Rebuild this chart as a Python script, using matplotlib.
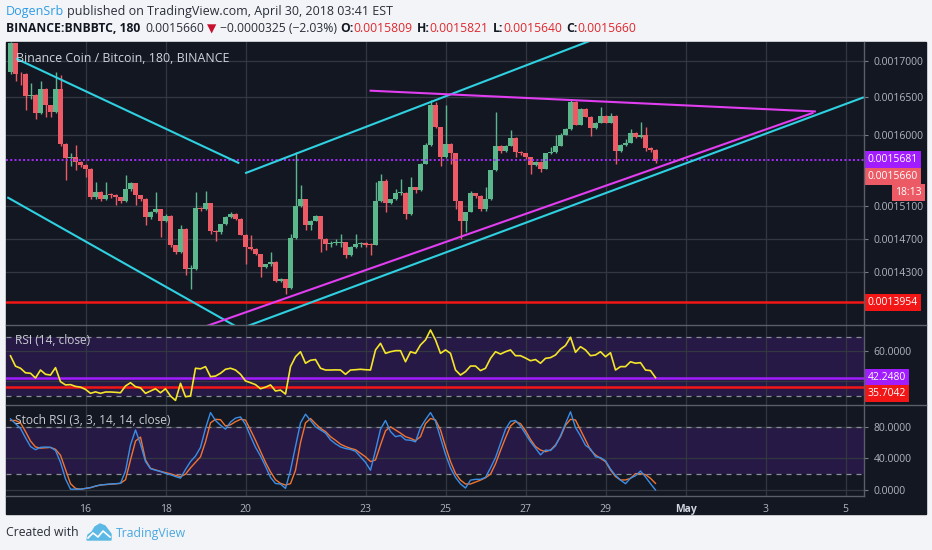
import matplotlib
matplotlib.use("Agg")
import matplotlib.pyplot as plt
import matplotlib.transforms as mtransforms
from matplotlib.patches import Rectangle, Polygon
from matplotlib.lines import Line2D
from matplotlib.ticker import FixedLocator, NullLocator, FixedFormatter

plt.rcParams['font.family'] = ['Open Sans', 'DejaVu Sans']

W, H = 932, 550

# BNB/BTC 3h candles starting Apr 14 03:00, prices in 1e-7 BTC
first_open = 16850
closes = [17240, 16820, 16810, 16510, 16525, 16295, 16615, 16390, 16305, 16615,
          15885, 15700, 15710, 15655, 15615, 15565, 15210, 15270, 15180, 15235,
          15230, 15210, 15165, 15305, 15385, 15235, 15190, 14960, 15025, 15055,
          14915, 14980, 14620, 14545, 14820, 14340, 14345, 15075, 15060, 15130,
          14795, 14775, 14875, 14960, 15005, 14940, 14750, 14600, 14580, 14515,
          14360, 14395, 14425, 14200, 14225, 14125, 14710, 15100, 15180, 14860,
          14920, 14975, 14700, 14640, 14650, 14650, 14655, 14505, 14600, 14640,
          14645, 14630, 14625, 15155, 15410, 15130, 15180, 15260, 15265, 15005,
          15330, 15295, 15630, 15865, 16390, 16105, 15720, 15885, 15760, 15155,
          14920, 15025, 15255, 15225, 15055, 15180, 15545, 15855, 15790, 15855,
          15965, 15780, 15760, 15710, 15615, 15655, 15565, 15760, 15780, 15855,
          16005, 16075, 16430, 16135, 16340, 16240, 16090, 16160, 16255, 16160,
          16255, 15790, 15875, 15900, 16030, 15975, 15995, 15830, 15809, 15660]
highs = [17265, 17240, 16850, 16830, 16690, 16540, 16715, 16630, 16400, 16850,
         16800, 15900, 15760, 15865, 15660, 15620, 15570, 15400, 15280, 15400,
         15260, 15245, 15215, 15480, 15400, 15390, 15240, 15195, 15035, 15270,
         15060, 14995, 14990, 14625, 14860, 14830, 14390, 15270, 15090, 15280,
         15140, 14800, 14880, 14970, 15025, 15010, 14945, 14755, 14740, 14590,
         14520, 14400, 14545, 14430, 14235, 14230, 14760, 15780, 15355, 15190,
         14930, 14985, 14980, 14710, 14670, 14700, 14760, 14660, 14610, 14760,
         14660, 14660, 14650, 15400, 15500, 15430, 15190, 15315, 15440, 15270,
         15460, 15340, 15640, 15900, 16460, 16430, 16110, 16390, 15890, 15770,
         15160, 15030, 15280, 15260, 15230, 15330, 15550, 16305, 15870, 15870,
         16060, 15975, 15790, 15765, 15715, 15665, 15660, 15770, 15840, 15995,
         16020, 16085, 16475, 16450, 16360, 16350, 16245, 16170, 16370, 16260,
         16295, 16260, 15885, 15950, 16075, 16040, 16170, 16105, 15840, 15821]
lows = [16820, 16720, 16660, 16325, 16480, 16215, 16280, 16240, 16240, 16290,
        15860, 15420, 15595, 15545, 15580, 15460, 15190, 15190, 15155, 15170,
        15200, 15105, 15140, 15150, 15290, 15105, 15160, 14860, 14940, 15010,
        14720, 14900, 14600, 14520, 14530, 14270, 14110, 14330, 15040, 15050,
        14760, 14670, 14760, 14860, 14950, 14930, 14740, 14405, 14570, 14500,
        14250, 14350, 14380, 14190, 14190, 14055, 14110, 14700, 15090, 14800,
        14800, 14910, 14545, 14560, 14600, 14620, 14600, 14470, 14490, 14590,
        14600, 14600, 14505, 14620, 15150, 15025, 15120, 15170, 15240, 14940,
        14990, 15255, 15290, 15620, 15860, 16090, 15595, 15700, 15630, 15065,
        14700, 14785, 15020, 15200, 15040, 15040, 15170, 15540, 15760, 15775,
        15850, 15720, 15740, 15690, 15500, 15600, 15520, 15555, 15750, 15770,
        15850, 15995, 16070, 16130, 16130, 16230, 15985, 16080, 16150, 16150,
        16150, 15630, 15780, 15860, 15890, 15960, 15960, 15790, 15780, 15640]

rsi = [57.0, 50.0, 48.6, 45.5, 45.2, 42.0, 47.4, 44.5, 44.0, 49.0,
       39.5, 37.3, 37.5, 36.3, 35.8, 34.3, 31.6, 32.6, 31.6, 32.5,
       32.5, 32.3, 32.0, 36.6, 38.8, 36.1, 35.3, 31.6, 33.2, 34.7,
       32.0, 34.7, 29.8, 26.8, 38.4, 29.3, 29.8, 48.6, 48.2, 49.7,
       42.9, 43.3, 45.2, 47.9, 48.6, 47.4, 44.5, 40.0, 38.8, 37.5,
       34.7, 35.8, 37.3, 33.2, 33.8, 31.1, 49.7, 56.4, 59.8, 52.0,
       54.0, 54.5, 48.6, 47.4, 47.4, 47.5, 47.4, 44.5, 47.4, 47.6,
       47.9, 47.6, 47.4, 61.0, 65.5, 58.7, 59.8, 60.5, 60.5, 53.0,
       59.8, 58.7, 64.4, 67.8, 74.5, 67.8, 58.7, 61.0, 58.7, 47.4,
       44.0, 46.3, 50.1, 50.1, 47.0, 48.6, 55.3, 59.8, 58.2, 59.8,
       61.0, 57.1, 57.1, 55.5, 53.7, 54.5, 52.0, 55.3, 55.8, 57.6,
       61.5, 64.0, 69.6, 59.4, 63.2, 61.0, 57.1, 57.6, 59.8, 56.4,
       59.1, 47.4, 49.7, 49.7, 53.0, 52.0, 52.4, 47.4, 47.0, 42.25]

stoch_k = [90, 84, 78, 66, 55, 51, 54, 54.4, 54, 50,
           35, 14, 1, 1, 1, 2, 3, 5, 6.3, 7,
           7.6, 8, 8.4, 24, 57, 76, 58, 36, 27, 25,
           23.5, 21, 19.4, 17, 15, 26, 36, 43, 54, 78,
           98, 88, 82, 77, 86, 91, 92.5, 83, 68, 54,
           43, 30, 16, 8.2, 7.5, 2, 25, 55, 85, 96,
           88, 80, 76, 72, 63.5, 58.5, 54.5, 52.5, 51.3, 49,
           42, 35, 25, 50, 77, 88, 74, 67.5, 69, 63.5,
           63, 61, 79, 89, 98, 87, 66, 45, 28, 16,
           7.7, 2.5, 12.5, 13.5, 13.5, 16, 28, 41, 59, 77,
           87, 88, 81, 71, 61, 53, 44.5, 50.5, 50, 56,
           68.5, 84, 99, 79, 68.5, 56.5, 52, 42, 41, 37,
           26.5, 18.5, 12.5, 8, 15, 18, 24, 16.5, 8, 0]
stoch_d = [88, 88, 85, 74, 62, 54.5, 53, 53.5, 53.9, 51.5,
           44, 26, 8, 2, 1, 2, 3, 4.8, 6.4, 6.8,
           7.3, 7.8, 8.5, 13, 38, 62, 67, 38, 27.4, 25.5,
           23.5, 22, 20.5, 18.5, 17, 20, 28, 35, 42, 61,
           85, 89.5, 89, 81, 82.5, 86.5, 89.5, 88.5, 76, 63,
           49, 35, 23, 13, 8.4, 6.3, 8, 25, 60, 85,
           90.5, 84, 78, 74, 67.5, 63, 58, 55, 52.7, 51,
           46.5, 42, 36, 38, 57, 75, 80, 76, 72, 67.5,
           65.4, 62.5, 67.5, 84, 90.5, 88.6, 76, 55, 36, 21,
           12.5, 7.6, 7.6, 10, 12.5, 15.5, 20, 33, 50, 66,
           81, 86.5, 84, 75, 64, 55, 50.6, 48.5, 50.6, 57,
           67.5, 82, 89.5, 88.6, 76, 63.7, 50.6, 44.3, 40, 36,
           25.3, 17, 12.7, 12.7, 14.8, 20.7, 20.7, 19.4, 14.8, 8.4]

price_ticks = [14300, 14700, 15100, 16000, 16500, 17000]
day_ticks = [16, 18, 20, 23, 25, 27, 29, 31, 33, 35]
day_labels = ['16', '18', '20', '23', '25', '27', '29', 'May', '3', '5']

# drawn trend lines: (day of April, price)
cyan_lines = [((14.26, 17030), (19.845, 15634)),
              ((14.045, 15206), (20.11, 13597)),
              ((19.99, 15507), (28.86, 17331)),
              ((19.86, 13657), (35.46, 16500))]
magenta_lines = [((18.86, 13662), (34.20, 16293)),
                 ((23.10, 16589), (34.26, 16309))]
support_level = 13954
pivot_level = 15681
last_price = 15660
rsi_purple = 42.248
rsi_red = 35.7042

BG = '#131722'
GRID = '#333742'
AXTXT = '#b2b5be'
UP = '#5bb68c'
DOWN = '#ec5b65'

fig = plt.figure(figsize=(W / 100, H / 100), dpi=100, facecolor='#f2f4f7')
fig.patches.append(Rectangle((6 / W, 1 - 514 / H), 920 / W, 472 / H,
                             transform=fig.transFigure, color=BG, zorder=-5))

ax_p = fig.add_axes([6 / W, 1 - 325 / H, 858 / W, 283 / H])
ax_r = fig.add_axes([6 / W, 1 - 405 / H, 858 / W, 80 / H], sharex=ax_p)
ax_s = fig.add_axes([6 / W, 1 - 496 / H, 858 / W, 91 / H], sharex=ax_p)

for ax in (ax_p, ax_r, ax_s):
    ax.set_facecolor(BG)
    for sp in ax.spines.values():
        sp.set_visible(False)
    ax.yaxis.tick_right()
    ax.tick_params(axis='y', colors='#787b86', labelcolor=AXTXT, labelsize=7.5,
                   length=3, width=0.8, pad=4)
    ax.tick_params(axis='x', length=0, labelcolor=AXTXT, labelsize=7.5, pad=6)
    ax.grid(True, color=GRID, lw=0.9)
    ax.set_axisbelow(True)

ax_p.set_xlim(14.0125, 35.4625)
ax_p.set_xticks(day_ticks)
ax_s.set_xticklabels(day_labels)
for lab in ax_s.get_xticklabels():
    if lab.get_text() == 'May':
        lab.set_fontweight('bold')
        lab.set_color('#d1d4dc')
plt.setp(ax_p.get_xticklabels(), visible=False)
plt.setp(ax_r.get_xticklabels(), visible=False)

# price panel
ax_p.set_yscale('log')
ax_p.set_ylim(13700, 17261)
ax_p.yaxis.set_major_locator(FixedLocator(price_ticks))
ax_p.yaxis.set_minor_locator(NullLocator())
ax_p.yaxis.set_major_formatter(FixedFormatter([f'{v * 1e-7:.7f}' for v in price_ticks]))

times = [14.125 + 0.125 * i for i in range(len(closes))]
opens = [first_open] + closes[:-1]
cols = [UP if c >= o else DOWN for o, c in zip(opens, closes)]
ax_p.vlines(times, lows, highs, colors=cols, lw=1, zorder=2)
ax_p.bar(times, [max(abs(c - o), 12) for o, c in zip(opens, closes)],
         bottom=[min(o, c) for o, c in zip(opens, closes)],
         width=0.108, color=cols, zorder=3, linewidth=0)

ax_p.axhline(support_level, color='#f21616', lw=1.8, zorder=4)
ax_p.axhline(pivot_level, color='#a52bff', lw=1.4, ls=(0, (1, 1.2)), zorder=4)
for (x0, y0), (x1, y1) in cyan_lines:
    ax_p.plot([x0, x1], [y0, y1], color='#2fd0e0', lw=1.5, zorder=5, solid_capstyle='butt')
for (x0, y0), (x1, y1) in magenta_lines:
    ax_p.plot([x0, x1], [y0, y1], color='#e03ef0', lw=1.5, zorder=5, solid_capstyle='butt')

# RSI panel
ax_r.set_ylim(23.7, 77.9)
ax_r.axhspan(30, 70, color='#8e24ff', alpha=0.16, lw=0, zorder=0)
for lvl in (30, 70):
    ax_r.axhline(lvl, color='#8a8d97', lw=0.9, ls=(0, (4, 4)), zorder=1)
ax_r.set_yticks([40, 60])
ax_r.set_yticklabels(['', '60.0000'])
ax_r.axhline(rsi_purple, color='#a11cff', lw=1.8, zorder=3)
ax_r.axhline(rsi_red, color='#f21616', lw=1.8, zorder=3)
ax_r.plot(times, rsi, color='#f4e52a', lw=1.2, zorder=4)

# Stoch RSI panel
ax_s.set_ylim(-7.6, 107.6)
ax_s.axhspan(20, 80, color='#8e24ff', alpha=0.16, lw=0, zorder=0)
for lvl in (20, 80):
    ax_s.axhline(lvl, color='#8a8d97', lw=0.9, ls=(0, (4, 4)), zorder=1)
ax_s.set_yticks([0, 40, 80])
ax_s.set_yticklabels(['0.0000', '40.0000', '80.0000'])
ax_s.plot(times, stoch_d, color='#f2742f', lw=1.0, zorder=3)
ax_s.plot(times, stoch_k, color='#3a8ee6', lw=1.0, zorder=4)


def side_label(ax, value, text, fc, dy_px=0, x_px=4, ha='left'):
    tr = mtransforms.blended_transform_factory(ax.transAxes, ax.transData)
    ax.annotate(text, xy=(1, value), xycoords=tr, xytext=(x_px * 0.72, -dy_px * 0.72),
                textcoords='offset points', color='white', fontsize=7.5, va='center', ha=ha,
                bbox=dict(boxstyle='square,pad=0.28', fc=fc, ec='none'),
                annotation_clip=False, zorder=20)


side_label(ax_p, pivot_level, f'{pivot_level * 1e-7:.7f}', '#a11cff')
side_label(ax_p, last_price, f'{last_price * 1e-7:.7f}', '#ec5b65', dy_px=15)
side_label(ax_p, last_price, '18:13', '#ec5b65', dy_px=31, x_px=58, ha='right')
side_label(ax_p, support_level, f'{support_level * 1e-7:.7f}', '#f21616')
side_label(ax_r, rsi_purple, f'{rsi_purple:.4f}', '#a11cff')
side_label(ax_r, rsi_red, f'{rsi_red:.4f}', '#f21616', dy_px=6)


def ftext(xpx, ypx, s, **kw):
    return fig.text(xpx / W, 1 - ypx / H, s, va='center', ha='left', **kw)


ftext(16, 59, 'Binance Coin / Bitcoin, 180, BINANCE', color='#d1d4dc', fontsize=8.9, zorder=30)
ftext(15, 341, 'RSI (14, close)', color='#c8cad0', fontsize=8.6, zorder=30)
ftext(15, 421, 'Stoch RSI (3, 3, 14, 14, close)', color='#c8cad0', fontsize=8.6, zorder=30)

# panel separators
sep = '#5a5e69'
for y in (325, 405):
    fig.add_artist(Line2D([6 / W, 926 / W], [1 - y / H] * 2, color=sep, lw=1))
fig.add_artist(Line2D([6 / W, 864 / W], [1 - 496 / H] * 2, color=sep, lw=1))
fig.add_artist(Line2D([864 / W] * 2, [1 - 42 / H, 1 - 496 / H], color=sep, lw=1))


def text_runs(xpx, ypx, runs, fs):
    r = fig.canvas.get_renderer()
    for s, color, weight, gap in runs:
        t = ftext(xpx, ypx, s, color=color, fontweight=weight, fontsize=fs)
        xpx = t.get_window_extent(renderer=r).x1 + gap


text_runs(6, 11, [('DogenSrb', '#2d9be6', 'normal', 3),
                  ('published on TradingView.com, April 30, 2018 03:41 EST', '#2a2e39', 'normal', 0)], 9.0)
red = '#e0282e'
text_runs(6, 29, [('BINANCE:BNBBTC, 180', '#131722', 'bold', 5),
                  ('0.0015660', '#2a2e39', 'normal', 3),
                  ('\u25bc', '#c8102e', 'normal', 3),
                  ('\u22120.0000325 (\u22122.03%)', '#2a2e39', 'normal', 4),
                  ('O:', '#131722', 'bold', 0), ('0.0015809', red, 'normal', 4),
                  ('H:', '#131722', 'bold', 0), ('0.0015821', red, 'normal', 4),
                  ('L:', '#131722', 'bold', 0), ('0.0015640', red, 'normal', 4),
                  ('C:', '#131722', 'bold', 0), ('0.0015660', red, 'normal', 0)], 8.75)

# footer
ftext(6, 533, 'Created with', color='#2a2e39', fontsize=8.8)
cloud = [(87, 540), (88, 535), (92, 532), (95, 527), (100, 524), (105, 526),
         (108, 530), (111, 534), (111, 540)]
fig.patches.append(Polygon([(x / W, 1 - y / H) for x, y in cloud], closed=True,
                           transform=fig.transFigure, color='#5cb8e4'))
zig = [(88, 538), (93, 533), (98, 537), (103, 531), (110, 537)]
fig.add_artist(Line2D([x / W for x, y in zig], [1 - y / H for x, y in zig], color='white', lw=1.2))
ftext(116, 533, 'TradingView', color='#4aa8e0', fontsize=8.8)

fig.savefig('out.png', dpi=100, facecolor=fig.get_facecolor())
